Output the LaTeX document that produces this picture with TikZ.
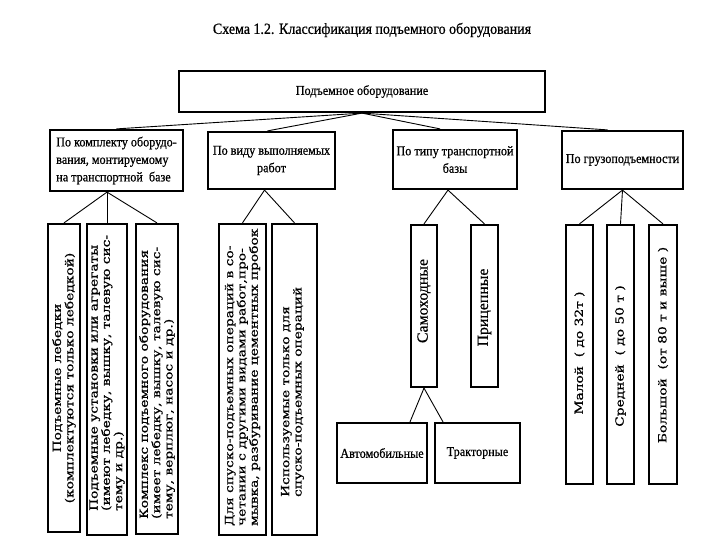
\documentclass[tikz,border=0pt]{standalone}
\usepackage{fontspec}
\setmainfont{Liberation Serif}
\newfontfamily\nserif{Liberation Serif}[FakeStretch=0.9,FakeBold=0.6]
\newfontfamily\vserif{Liberation Serif}[FakeStretch=1.02,FakeBold=0.6]
\newfontfamily\wserif{DejaVu Serif}[FakeStretch=1.23,FakeBold=0.8]
\begin{document}
\begin{tikzpicture}[x=1pt,y=-1pt,
  box/.style={draw, line width=2.2pt, inner sep=0pt},
  conn/.style={line width=0.9pt},
  hfont/.style={font=\nserif\fontsize{13.5}{17.5}\selectfont},
  vt/.style={font=\wserif\fontsize{11.2}{12.3}\selectfont, rotate=90, inner sep=0pt, align=left},
  vtc/.style={font=\wserif\fontsize{11.2}{12.3}\selectfont, rotate=90, inner sep=0pt, align=center},
  vn/.style={font=\vserif\fontsize{15.5}{17}\selectfont, rotate=90, inner sep=0pt},
]
\useasboundingbox[fill=white] (0,0) rectangle (720,545);

\node[font=\nserif\fontsize{15.5}{18}\selectfont] (title) at (372,30) {Схема 1.2. Классификация подъемного оборудования};

\node[box, hfont, minimum width=366pt, minimum height=41pt] (top) at (362,91.5) {Подъемное оборудование};

\node[box, hfont, align=left, minimum width=133pt, minimum height=61pt] (A) at (116.5,160.5)
  {По комплекту оборудо-\\вания, монтируемому\\на транспортной\ \ базе};
\node[box, hfont, align=center, minimum width=127pt, minimum height=57pt] (B) at (271.5,160.5)
  {По виду выполняемых\\работ};
\node[box, hfont, align=center, minimum width=124pt, minimum height=59pt] (C) at (455,159.5)
  {По типу транспортной\\базы};
\node[box, hfont, minimum width=121pt, minimum height=58pt] (D) at (622.5,160)
  {По грузоподъемности};

% lower boxes
\node[box, minimum width=32pt, minimum height=308pt] (A1) at (64,378) {};
\node[box, minimum width=40pt, minimum height=311pt] (A2) at (107,379.5) {};
\node[box, minimum width=42pt, minimum height=310pt] (A3) at (157,379) {};
\node[box, minimum width=47pt, minimum height=311pt] (B1) at (242.5,379.5) {};
\node[box, minimum width=45pt, minimum height=311pt] (B2) at (294.5,379.5) {};
\node[box, minimum width=26pt, minimum height=162pt] (C1) at (424,306) {};
\node[box, minimum width=27pt, minimum height=162pt] (C2) at (484.5,306) {};
\node[box, hfont, minimum width=90pt, minimum height=60pt] (C11) at (382,453) {Автомобильные};
\node[box, hfont, minimum width=85pt, minimum height=60pt] (C12) at (477.5,453) {Тракторные};
\node[box, minimum width=27pt, minimum height=259pt] (D1) at (579.5,354.5) {};
\node[box, minimum width=27pt, minimum height=259pt] (D2) at (620.5,354.5) {};
\node[box, minimum width=28pt, minimum height=259pt] (D3) at (663,354.5) {};

% vertical texts
\node[vtc] (A1t) at (A1.center) {Подъемные лебедки\\(комплектуются только лебедкой)};
\node[vt, anchor=west] (A2t) at ([yshift=25pt]A2.south)
  {Подъемные установки или агрегаты\\(имеют лебедку, вышку, талевую сис-\\тему и др.)};
\node[vt, anchor=west] (A3t) at ([yshift=16pt]A3.south)
  {Комплекс подъемного оборудования\\(имеет лебедку, вышку, талевую сис-\\тему, верплюг, насос и др.)};
\node[vt, anchor=west] (B1t) at ([yshift=10pt]B1.south)
  {Для спуско-подъемных операций в со-\\четании с другими видами работ,про-\\мывка, разбуривание цементных пробок};
\node[vt, anchor=west] (B2t) at ([yshift=39pt,xshift=-2pt]B2.south)
  {Используемые только для\\спуско-подъемных операций};
\node[vn] (C1t) at (424,301) {Самоходные};
\node[vn] (C2t) at (484.5,307.5) {Прицепные};
\node[vtc] (D1t) at (579.5,353) {Малой\ \ ( до 32т )};
\node[vtc] (D2t) at (620.5,356) {Средней\ \ ( до 50 т )};
\node[vtc] (D3t) at (663,345) {Большой\ \ (от 80 т и выше )};

% connectors
\draw[conn] (top.south) -- (A.north);
\draw[conn] (top.south) -- ([xshift=-4pt]B.north);
\draw[conn] (top.south) -- ([xshift=-15pt]C.north);
\draw[conn] (top.south) -- ([xshift=-15pt]D.north);

\coordinate (Af) at ([xshift=-9.5pt]A.south);
\draw[conn] (Af) -- (A1.north);
\draw[conn] (Af) -- (A2.north);
\draw[conn] (Af) -- (A3.north);

\coordinate (Bf) at ([xshift=-7pt]B.south);
\draw[conn] (Bf) -- (B1.north);
\draw[conn] (Bf) -- (B2.north);

\coordinate (Cf) at ([xshift=-7pt]C.south);
\draw[conn] (Cf) -- (C1.north);
\draw[conn] (Cf) -- (C2.north);

\draw[conn] (D.south) -- (D1.north);
\draw[conn] (D.south) -- (D2.north);
\draw[conn] (D.south) -- (D3.north);

\draw[conn] (C1.south) -- ([xshift=28pt]C11.north);
\draw[conn] (C1.south) -- ([xshift=-34.5pt]C12.north);
\end{tikzpicture}
\end{document}
